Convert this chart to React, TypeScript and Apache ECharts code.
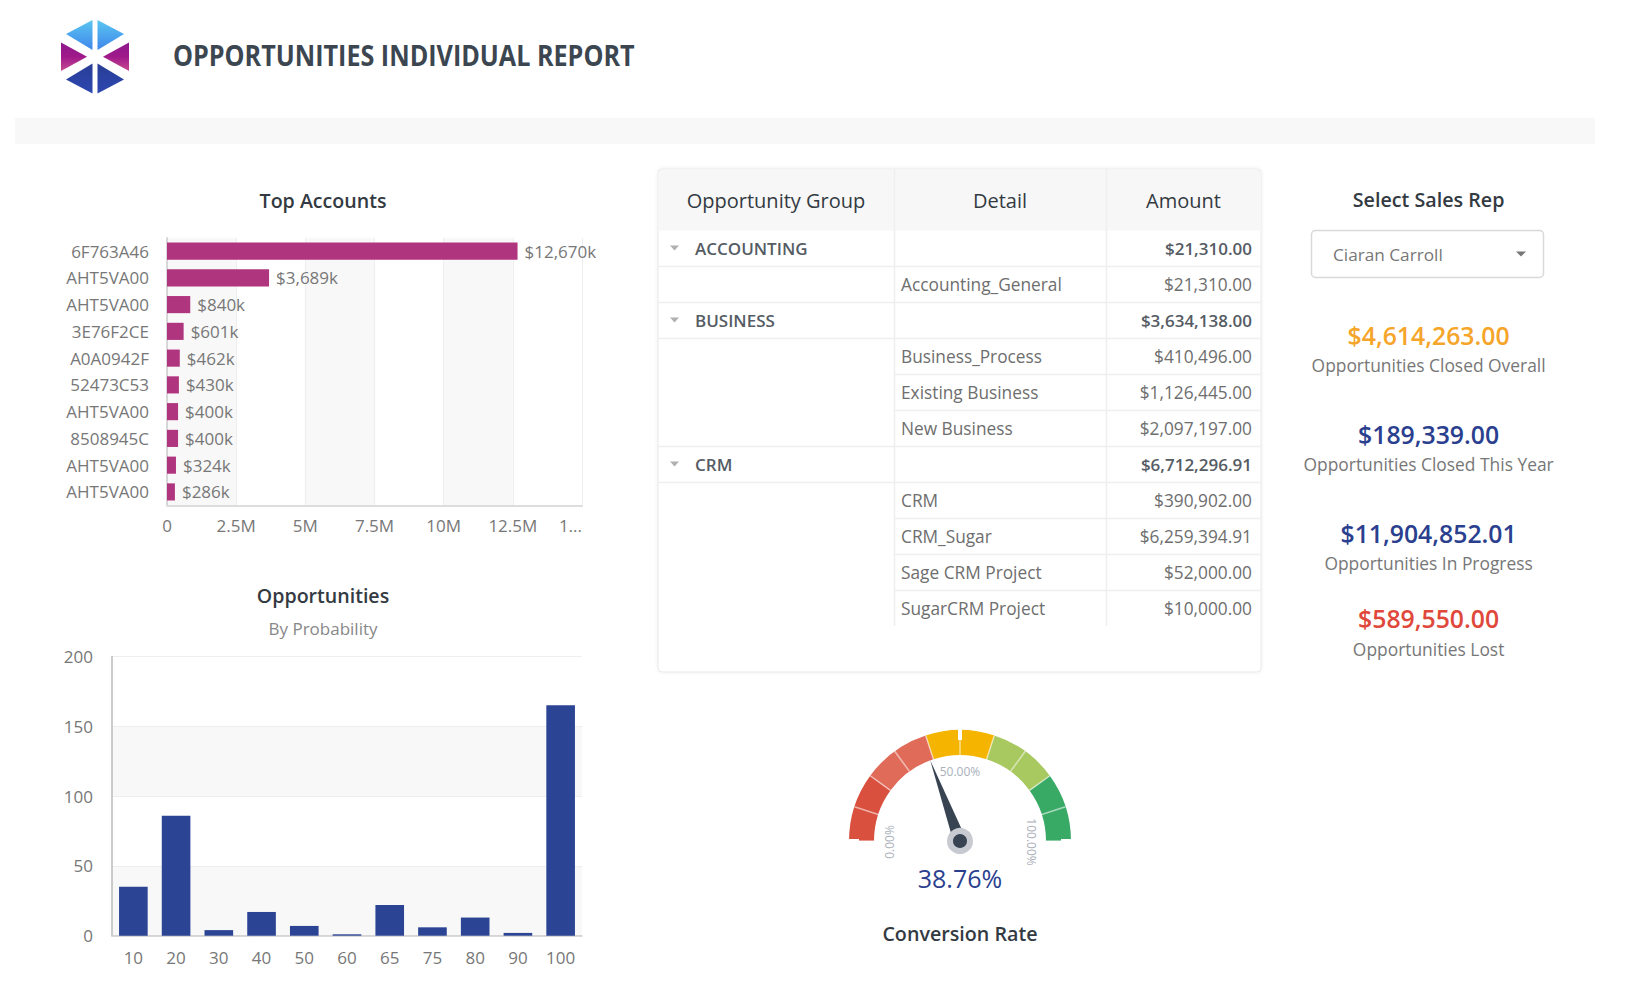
import React, { useEffect, useRef } from "react";
import * as echarts from "echarts";

const FONT = "'Open Sans', 'Noto Sans', sans-serif";

// ---- Data ----
const reportTitle = "OPPORTUNITIES INDIVIDUAL REPORT";

const accountNames = ["6F763A46", "AHT5VA00", "AHT5VA00", "3E76F2CE", "A0A0942F", "52473C53", "AHT5VA00", "8508945C", "AHT5VA00", "AHT5VA00"];
const accountValuesK = [12670, 3689, 840, 601, 462, 430, 400, 400, 324, 286];
const accountTickLabels = ["0", "2.5M", "5M", "7.5M", "10M", "12.5M", "1..."];

const probabilityCategories = ["10", "20", "30", "40", "50", "60", "65", "75", "80", "90", "100"];
const probabilityCounts = [35, 86, 4, 17, 7, 1, 22, 6, 13, 2, 165];

const tableHeaders = ["Opportunity Group", "Detail", "Amount"];
const groupNames = ["ACCOUNTING", "BUSINESS", "CRM"];
const detailNames = [
  ["Accounting_General"],
  ["Business_Process", "Existing Business", "New Business"],
  ["CRM", "CRM_Sugar", "Sage CRM Project", "SugarCRM Project"],
];
const detailAmounts = [
  [21310.0],
  [410496.0, 1126445.0, 2097197.0],
  [390902.0, 6259394.91, 52000.0, 10000.0],
];

const salesRep = "Ciaran Carroll";
const kpiValues = [4614263.0, 189339.0, 11904852.01, 589550.0];
const kpiLabels = ["Opportunities Closed Overall", "Opportunities Closed This Year", "Opportunities In Progress", "Opportunities Lost"];
const kpiColors = ["#f5a52a", "#2b3f8f", "#2b3f8f", "#e0483b"];

const conversionRate = 38.76;
const gaugeBandStops = [0.2, 0.4, 0.6, 0.8, 1];
const gaugeBandColors = ["#d9503f", "#e06b59", "#f4b400", "#a8c960", "#39aa66"];

const money = (v: number) =>
  "$" + v.toLocaleString("en-US", { minimumFractionDigits: 2, maximumFractionDigits: 2 });

function txt(x: number, y: number, text: string, o: any = {}) {
  return {
    type: "text",
    x,
    y,
    z: 10,
    scaleX: o.scaleX ?? 1,
    style: {
      text,
      fill: o.fill ?? "#666",
      fontSize: o.fontSize ?? 16,
      fontFamily: FONT,
      fontWeight: o.fontWeight ?? "normal",
      textAlign: o.align ?? "left",
      textVerticalAlign: "middle",
    },
  };
}

function buildGraphics() {
  const els: any[] = [];
  // Logo
  const gradTop = new echarts.graphic.LinearGradient(0, 0, 0, 1, [
    { offset: 0, color: "#5bc6f0" },
    { offset: 1, color: "#3f86ec" },
  ]);
  const gradMid = new echarts.graphic.LinearGradient(0, 0, 0, 1, [
    { offset: 0, color: "#8d1a8c" },
    { offset: 0.5, color: "#a0198a" },
    { offset: 1, color: "#c74b8f" },
  ]);
  const gradBot = new echarts.graphic.LinearGradient(0, 0, 0, 1, [
    { offset: 0, color: "#283e96" },
    { offset: 1, color: "#2d47b0" },
  ]);
  const tri = (pts: number[][], fill: any) => ({ type: "polygon", shape: { points: pts }, style: { fill } });
  els.push(tri([[66, 34], [92.5, 20], [92.5, 50]], gradTop));
  els.push(tri([[124, 34], [97.5, 20], [97.5, 50]], gradTop));
  els.push(tri([[61, 42.5], [61, 71], [87, 56.7]], gradMid));
  els.push(tri([[129, 42.5], [129, 71], [103, 56.7]], gradMid));
  els.push(tri([[66, 79.5], [92.5, 93.5], [92.5, 63.5]], gradBot));
  els.push(tri([[124, 79.5], [97.5, 93.5], [97.5, 63.5]], gradBot));

  els.push(txt(173, 55, reportTitle, { fill: "#3c4650", fontSize: 28, fontWeight: "bold", scaleX: 0.898 }));

  // Gray band
  els.push({ type: "rect", shape: { x: 15, y: 118, width: 1580, height: 26 }, style: { fill: "#f8f8f8" } });

  // Chart titles
  els.push(txt(323, 200, "Top Accounts", { fill: "#333a42", fontSize: 19.6, fontWeight: 600, align: "center" }));
  els.push(txt(323, 595, "Opportunities", { fill: "#333a42", fontSize: 19.6, fontWeight: 600, align: "center" }));
  els.push(txt(323, 628, "By Probability", { fill: "#888", fontSize: 17, align: "center" }));

  // Table
  const tx0 = 658, tx1 = 1261, ty0 = 169, headerB = 230, rowH = 36;
  const col1 = 894, col2 = 1106;
  els.push({
    type: "rect",
    shape: { x: tx0, y: ty0, width: tx1 - tx0, height: 503, r: 4 },
    style: { fill: "#fff", stroke: "#e8e8e8", lineWidth: 1, shadowBlur: 4, shadowColor: "rgba(0,0,0,0.06)" },
  });
  els.push({
    type: "rect",
    shape: { x: tx0 + 0.5, y: ty0 + 0.5, width: tx1 - tx0 - 1, height: headerB - ty0, r: [4, 4, 0, 0] },
    style: { fill: "#f7f7f7" },
  });
  const hdr = { fill: "#333a42", fontSize: 20, fontWeight: 500, align: "center" };
  els.push(txt((tx0 + col1) / 2, 200, tableHeaders[0], hdr));
  els.push(txt((col1 + col2) / 2, 200, tableHeaders[1], hdr));
  els.push(txt((col2 + tx1) / 2, 200, tableHeaders[2], hdr));

  let row = 0;
  groupNames.forEach((g, gi) => {
    const total = detailAmounts[gi].reduce((a, b) => a + b, 0);
    const cy = headerB + rowH * row + rowH / 2;
    els.push({ type: "polygon", shape: { points: [[670, cy - 2.5], [679, cy - 2.5], [674.5, cy + 2.5]] }, style: { fill: "#b0b0b0" } });
    els.push(txt(695, cy, g, { fill: "#555c64", fontSize: 17, fontWeight: 600 }));
    els.push(txt(1252, cy, money(total), { fill: "#555c64", fontSize: 17, fontWeight: 600, align: "right" }));
    const yb = headerB + rowH * (row + 1) + 0.5;
    els.push({ type: "line", shape: { x1: tx0, y1: yb, x2: tx1, y2: yb }, style: { stroke: "#efefef", lineWidth: 1.5 } });
    row++;
    detailNames[gi].forEach((d, di) => {
      const cyd = headerB + rowH * row + rowH / 2;
      els.push(txt(901, cyd, d, { fill: "#6e6e6e", fontSize: 17.3 }));
      els.push(txt(1252, cyd, money(detailAmounts[gi][di]), { fill: "#6e6e6e", fontSize: 17.3, align: "right" }));
      const last = di === detailNames[gi].length - 1;
      const isFinal = gi === groupNames.length - 1 && last;
      if (!isFinal) {
        const yd = headerB + rowH * (row + 1) + 0.5;
        els.push({
          type: "line",
          shape: { x1: last ? tx0 : col1, y1: yd, x2: tx1, y2: yd },
          style: { stroke: "#efefef", lineWidth: 1.5 },
        });
      }
      row++;
    });
  });
  const tableEnd = headerB + rowH * row;
  [col1, col2].forEach((cx) => {
    els.push({ type: "line", shape: { x1: cx + 0.5, y1: ty0, x2: cx + 0.5, y2: tableEnd }, style: { stroke: "#efefef", lineWidth: 1.5 } });
  });

  // Right panel
  const rx = 1428.6;
  els.push(txt(rx, 199, "Select Sales Rep", { fill: "#333a42", fontSize: 19.7, fontWeight: 600, align: "center" }));
  els.push({
    type: "rect",
    shape: { x: 1311.5, y: 230.5, width: 232, height: 47, r: 4 },
    style: { fill: "#fff", stroke: "#d9d9d9", lineWidth: 1.5 },
  });
  els.push(txt(1333, 254, salesRep, { fill: "#777", fontSize: 17.2 }));
  els.push({ type: "polygon", shape: { points: [[1516, 251.5], [1526, 251.5], [1521, 256.5]] }, style: { fill: "#777" } });

  const kpiY = [334.5, 433.5, 532.5, 618];
  kpiValues.forEach((v, i) => {
    els.push(txt(rx, kpiY[i], money(v), { fill: kpiColors[i], fontSize: 24.8, fontWeight: 600, align: "center" }));
    els.push(txt(rx, kpiY[i] + 30.5, kpiLabels[i], { fill: "#777", fontSize: 17.4, align: "center" }));
  });

  // Gauge labels
  const gl = (x: number, y: number, t: string, rot: number) => ({
    type: "text",
    x,
    y,
    rotation: rot,
    z: 10,
    style: { text: t, fill: "#aab0ba", fontSize: 12, fontFamily: FONT, textAlign: "center", textVerticalAlign: "middle" },
  });
  els.push(gl(889, 842, "0.00%", Math.PI / 2));
  els.push(gl(960, 771, "50.00%", 0));
  els.push(gl(1031, 842, "100.00%", -Math.PI / 2));

  return els;
}

export default function App() {
  const ref = useRef<HTMLDivElement>(null);
  useEffect(() => {
    if (!ref.current) return;
    const chart = echarts.init(ref.current, null, { renderer: "svg" });
    const axisLabel = { color: "#777", fontSize: 17, fontFamily: FONT };
    const option: any = {
      animation: false,
      backgroundColor: "#fff",
      textStyle: { fontFamily: FONT },
      grid: [
        { left: 167, top: 237.7, width: 415, height: 267.6, containLabel: false },
        { left: 112, top: 656.5, width: 470, height: 279.2, containLabel: false },
      ],
      xAxis: [
        {
          gridIndex: 0,
          type: "value",
          min: 0,
          max: 15000,
          interval: 2500,
          axisLine: { show: true, lineStyle: { color: "#ddd", width: 2 } },
          axisTick: { show: false },
          splitLine: { show: true, lineStyle: { color: "#eee" } },
          splitArea: { show: true, areaStyle: { color: ["#f8f8f8", "#ffffff"] } },
          axisLabel: {
            ...axisLabel,
            margin: 12,
            alignMaxLabel: "right",
            formatter: (_v: number, i: number) => accountTickLabels[i] ?? "",
          },
        },
        {
          gridIndex: 1,
          type: "category",
          data: probabilityCategories,
          axisLine: { show: true, lineStyle: { color: "#ccc", width: 1.5 } },
          axisTick: { show: false },
          axisLabel: { ...axisLabel, margin: 13 },
        },
      ],
      yAxis: [
        {
          gridIndex: 0,
          type: "category",
          inverse: true,
          data: accountNames,
          axisLine: { show: true, lineStyle: { color: "#ccc", width: 1.5 } },
          axisTick: { show: false },
          axisLabel: { ...axisLabel, margin: 18 },
        },
        {
          gridIndex: 1,
          type: "value",
          min: 0,
          max: 200,
          interval: 50,
          axisLine: { show: true, lineStyle: { color: "#bbb", width: 1.5 } },
          axisTick: { show: false },
          splitLine: { show: true, lineStyle: { color: "#eee" } },
          splitArea: { show: true, areaStyle: { color: ["#f8f8f8", "#ffffff"] } },
          axisLabel: { ...axisLabel, margin: 19 },
        },
      ],
      series: [
        {
          type: "bar",
          xAxisIndex: 0,
          yAxisIndex: 0,
          data: accountValuesK,
          barCategoryGap: "36%",
          itemStyle: { color: "#b0357f" },
          label: {
            show: true,
            position: "right",
            distance: 7,
            color: "#777",
            fontSize: 17,
            fontFamily: FONT,
            formatter: (p: any) => "$" + Number(p.value).toLocaleString("en-US") + "k",
          },
        },
        {
          type: "bar",
          xAxisIndex: 1,
          yAxisIndex: 1,
          data: probabilityCounts,
          barCategoryGap: "33%",
          itemStyle: { color: "#2b4594" },
        },
        {
          type: "gauge",
          center: [960, 841],
          radius: 111,
          startAngle: 180,
          endAngle: 0,
          min: 0,
          max: 100,
          splitNumber: 10,
          axisLine: {
            lineStyle: {
              width: 25,
              color: gaugeBandStops.map((s, i) => [s, gaugeBandColors[i]]),
            },
          },
          splitLine: { distance: -25, length: 25, lineStyle: { color: "rgba(255,255,255,0.55)", width: 1.5 } },
          axisTick: { show: false },
          axisLabel: { show: false },
          pointer: { length: 86, width: 6.5, itemStyle: { color: "#384452" } },
          anchor: {
            show: true,
            showAbove: true,
            size: 20,
            itemStyle: { color: "#384452", borderColor: "#c8cad1", borderWidth: 6 },
          },
          title: { offsetCenter: [0, 92], fontSize: 19.7, color: "#333a42", fontWeight: 600, fontFamily: FONT },
          detail: {
            offsetCenter: [0, 37],
            fontSize: 25,
            color: "#2b3f8f",
            fontFamily: FONT,
            fontWeight: 500,
            valueAnimation: false,
            formatter: (v: number) => v.toFixed(2) + "%",
          },
          data: [{ value: conversionRate, name: "Conversion Rate" }],
        },
        {
          type: "gauge",
          center: [960, 841],
          radius: 111,
          startAngle: 180,
          endAngle: 0,
          min: 0,
          max: 100,
          splitNumber: 2,
          axisLine: { show: false },
          splitLine: { distance: -25, length: 25, lineStyle: { color: "#fff", width: 4 } },
          axisTick: { show: false },
          axisLabel: { show: false },
          pointer: { show: false },
          anchor: { show: false },
          title: { show: false },
          detail: { show: false },
          data: [{ value: 0 }],
        },
      ],
      graphic: { elements: buildGraphics() },
    };
    chart.setOption(option);
    return () => chart.dispose();
  }, []);
  return (
    <div
      ref={ref}
      style={{ position: "absolute", left: 0, top: 0, width: 1634, height: 1006, background: "#fff" }}
    />
  );
}
